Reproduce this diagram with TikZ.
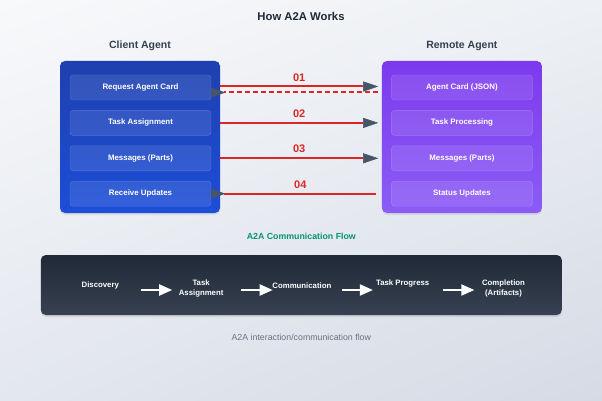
\documentclass[tikz,border=0pt]{standalone}
\usepackage{fontspec}
\setmainfont{Liberation Sans}
\usetikzlibrary{positioning, arrows.meta, shadows, shadings}

\definecolor{bgul}{HTML}{F8F9FB}
\definecolor{bgur}{HTML}{EDF0F4}
\definecolor{bgll}{HTML}{E3E7EE}
\definecolor{bglr}{HTML}{D5DBE5}
\definecolor{clienttop}{HTML}{1E40AF}
\definecolor{clientbot}{HTML}{1D4ED8}
\definecolor{remotetop}{HTML}{7C3AED}
\definecolor{remotebot}{HTML}{8B5CF6}
\definecolor{msgred}{HTML}{DC2626}
\definecolor{tipgray}{HTML}{475569}
\definecolor{flowgreen}{HTML}{059669}
\definecolor{darktop}{HTML}{1F2937}
\definecolor{darkbot}{HTML}{374151}
\definecolor{headtext}{HTML}{1F2937}
\definecolor{capgray}{HTML}{6B7280}

\begin{document}
\begin{tikzpicture}[
    x=1pt, y=-1pt,
    agent/.style={rectangle, rounded corners=5pt, minimum width=160pt, minimum height=152pt, drop shadow={opacity=0.15, shadow xshift=0pt, shadow yshift=-2pt}},
    item/.style={rectangle, rounded corners=3pt, draw=white, draw opacity=0.2, fill=white, fill opacity=0.1, text opacity=1, text=white, minimum width=141pt, minimum height=25pt, font=\fontsize{7.9}{9}\selectfont\bfseries},
    title/.style={font=\fontsize{11.3}{13}\selectfont\bfseries, text=headtext},
    heading/.style={font=\fontsize{10.5}{12}\selectfont\bfseries, text=darkbot},
    num/.style={font=\fontsize{11}{12}\selectfont\bfseries, text=msgred},
    msg/.style={draw=msgred, line width=2pt, -{Triangle[length=15pt, width=10pt, line width=0.5pt, color=tipgray]}},
    reply/.style={draw=msgred, line width=2pt, -{Triangle[reversed, length=14pt, width=10pt, line width=0.5pt, color=tipgray]}},
    darkbox/.style={rectangle, rounded corners=5pt, minimum width=521pt, minimum height=60pt, top color=darktop, bottom color=darkbot, drop shadow={opacity=0.2, shadow xshift=0pt, shadow yshift=-2pt}},
    stage/.style={text=white, align=center, minimum width=80pt, font=\fontsize{7.8}{10}\selectfont\bfseries},
    stagearrow/.style={draw=white, line width=2pt, -{Triangle[length=13pt, width=11pt]}}
]
    \useasboundingbox (0,0) rectangle (602,401);
    \shade[upper left=bgul, upper right=bgur, lower left=bgll, lower right=bglr] (0,0) rectangle (602,401);

    \node [title] (maintitle) at (301,16) {How A2A Works};

    % agents
    \node [agent, top color=clienttop, bottom color=clientbot] (client) at (140,137) {};
    \node [agent, top color=remotetop, bottom color=remotebot, right=161.5pt of client] (remote) {};
    \node [heading] (clienthead) at ([yshift=15pt]client.north) {Client Agent};
    \node [heading] (remotehead) at ([yshift=15pt]remote.north) {Remote Agent};

    \node [item] (reqcard) at (140.5,87.5) {Request Agent Card};
    \node [item, below=10pt of reqcard] (taskassign) {Task Assignment};
    \node [item, below=10pt of taskassign] (clientmsg) {Messages (Parts)};
    \node [item, below=10pt of clientmsg] (recvupd) {Receive Updates};

    \node [item] (agentcard) at (remote.center |- reqcard) {Agent Card (JSON)};
    \node [item, below=10pt of agentcard] (taskproc) {Task Processing};
    \node [item, below=10pt of taskproc] (remotemsg) {Messages (Parts)};
    \node [item, below=10pt of remotemsg] (statusupd) {Status Updates};

    % messages between agents
    \draw [msg] ([yshift=1pt]reqcard.east -| client.east) -- node [num, above=1pt] (n1) {01} ([xshift=-3.5pt, yshift=1pt]agentcard.west -| remote.west);
    \draw [reply, dash pattern=on 5pt off 3pt] ([xshift=-4pt, yshift=-5pt]agentcard.west -| remote.west) -- ([xshift=-9pt, yshift=-5pt]reqcard.east -| client.east);
    \draw [msg] (taskassign.east -| client.east) -- node [num, above=1pt] (n2) {02} ([xshift=-3.5pt]taskproc.west -| remote.west);
    \draw [msg] (clientmsg.east -| client.east) -- node [num, above=1pt] (n3) {03} ([xshift=-3.5pt]remotemsg.west -| remote.west);
    \draw [reply] ([xshift=-5.5pt]statusupd.west -| remote.west) -- node [num, above=1pt, pos=0.46] (n4) {04} ([xshift=-9pt]recvupd.east -| client.east);

    % flow strip
    \node [darkbox] (flowbox) at (301.3,285) {};
    \node [font=\fontsize{8.8}{10}\selectfont\bfseries, text=flowgreen] (flowtitle) at ([yshift=18pt]flowbox.north) {A2A Communication Flow};

    \node [stage] (discovery) at (100.3,285) {Discovery};
    \node [stage, right=20.4pt of discovery, yshift=-3pt] (taskstep) {Task\\Assignment};
    \node [stage, right=20.4pt of taskstep, yshift=2.5pt] (commstep) {Communication};
    \node [stage, right=20.4pt of commstep, yshift=2.5pt] (progstep) {Task Progress};
    \node [stage, right=20.4pt of progstep, yshift=-5pt] (donestep) {Completion\\(Artifacts)};

    \draw [stagearrow] ([yshift=-5pt]discovery.east) -- ([xshift=11.3pt, yshift=-2pt]taskstep.west);
    \draw [stagearrow] ([yshift=-2pt]taskstep.east) -- ([xshift=11pt, yshift=-4.5pt]commstep.west);
    \draw [stagearrow] ([yshift=-4.5pt]commstep.east) -- ([xshift=10.4pt, yshift=-7pt]progstep.west);
    \draw [stagearrow] ([yshift=-7pt]progstep.east) -- ([xshift=11pt, yshift=-2pt]donestep.west);

    \node [font=\fontsize{8.8}{10}\selectfont, text=capgray] (caption) at ([yshift=-22pt]flowbox.south) {A2A interaction/communication flow};
\end{tikzpicture}
\end{document}
